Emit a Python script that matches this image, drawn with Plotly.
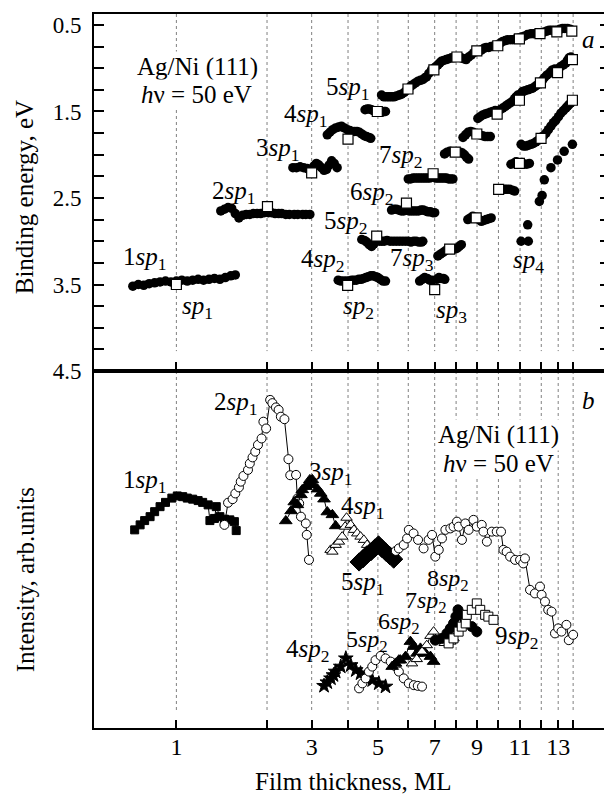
import numpy as np
import plotly.graph_objects as go

# ---------------- axis scale (film thickness, ML -> position on drawn axis) -------------
ML_TICKS = [0, 1, 2, 3, 4, 5, 6, 7, 8, 9, 10, 11, 12, 13, 14]
AXIS_POS = [85.7, 176.7, 267.7, 312.5, 349, 379, 409.5, 436, 457.5, 478.5, 500, 521.7, 543, 560, 575]
X_TICK_TEXT = ["1", "", "3", "", "5", "", "7", "", "9", "", "11", "", "13", ""]
BE_TICKS = [0.5, 0.75, 1.0, 1.25, 1.5, 1.75, 2.0, 2.25, 2.5, 2.75, 3.0, 3.25, 3.5, 3.75, 4.0, 4.25, 4.5]
BE_TICK_TEXT = ["0.5", "", "", "", "1.5", "", "", "", "2.5", "", "", "", "3.5", "", "", "", "4.5"]

def xs(ml):
    return np.interp(ml, ML_TICKS, AXIS_POS)

# ---------------- panel a: binding energy (filled circles) -------------
BE_1SP1_ML = [0.52,0.58,0.64,0.70,0.76,0.82,0.88,0.94,1.00,1.06,1.12,1.18,1.24,1.30,1.36,1.42,1.48,1.54,1.60,1.65]
BE_1SP1_EV = [3.52,3.50,3.51,3.49,3.48,3.47,3.46,3.47,3.46,3.45,3.46,3.45,3.44,3.45,3.44,3.43,3.44,3.42,3.40,3.39]
BE_2SP1_ML = [1.49,1.53,1.57,1.61,1.65,1.69,1.73,1.77,1.81,1.85,1.89,1.93,1.97,2.03,2.1,2.18,2.26,2.33,2.42,2.5,2.61,2.69,2.8,2.87,2.96]
BE_2SP1_EV = [2.65,2.63,2.61,2.62,2.68,2.73,2.70,2.69,2.69,2.68,2.68,2.68,2.67,2.67,2.67,2.68,2.68,2.68,2.69,2.69,2.69,2.69,2.69,2.69,2.69]
BE_3SP1_ML = [2.58,2.66,2.74,2.82,2.9,2.98,3.06,3.13,3.2,3.27,3.34,3.41,3.48,3.55,3.62,3.7]
BE_3SP1_EV = [2.15,2.15,2.14,2.15,2.16,2.17,2.13,2.10,2.12,2.15,2.18,2.17,2.12,2.07,2.10,2.15]
BE_4SP1_ML = [3.43,3.5,3.58,3.66,3.74,3.82,3.9,3.98,4.06,4.14,4.22,4.3,4.38,4.46,4.54,4.62,4.7,4.76]
BE_4SP1_EV = [1.77,1.74,1.71,1.69,1.68,1.67,1.69,1.71,1.72,1.73,1.73,1.73,1.74,1.76,1.78,1.79,1.80,1.81]
BE_5SP1_ML = [4.57,4.64,4.71,4.78,4.85,4.92,4.99,5.06,5.13,5.2,5.25]
BE_5SP1_EV = [1.48,1.47,1.47,1.48,1.49,1.50,1.50,1.51,1.51,1.50,1.50]
BE_SP1_HI_ML = [5.12,5.2,5.29,5.37,5.45,5.53,5.61,5.7,5.78,5.87,5.95,6.05,6.12,6.18,6.27,6.37,6.46,6.56,6.63,6.69,
                6.78,6.88,6.97,7.06,7.15,7.23,7.31,7.42,7.54,7.66,7.78,7.9,8.0,8.12,8.25,8.36,8.48,8.6,8.72,8.85,
                8.99,9.1,9.2,9.32,9.43,9.55,9.66,9.8,9.95,10.08,10.2,10.32,10.43,10.55,10.66,10.8,10.95,11.08,11.2,11.35,
                11.51,11.63,11.75,11.9,12.04,12.18,12.33,12.47,12.62,12.77,12.92,13.1,13.29,13.45,13.62,13.8,13.92]
BE_SP1_HI_EV = [1.31,1.33,1.33,1.33,1.33,1.33,1.32,1.31,1.30,1.28,1.25,1.22,1.20,1.19,1.17,1.15,1.14,1.13,1.11,1.10,
                1.06,1.02,1.00,0.98,0.96,0.94,0.92,0.91,0.90,0.89,0.88,0.88,0.87,0.87,0.88,0.89,0.90,0.87,0.85,0.82,
                0.80,0.80,0.79,0.77,0.76,0.76,0.75,0.74,0.73,0.71,0.69,0.68,0.67,0.67,0.67,0.66,0.65,0.64,0.63,0.61,
                0.60,0.60,0.60,0.59,0.59,0.58,0.57,0.56,0.56,0.56,0.56,0.55,0.54,0.54,0.54,0.55,0.56]
BE_4SP2_ML = [3.73,3.8,3.88,3.96,4.04,4.12,4.2,4.28,4.36,4.44,4.52,4.6,4.68,4.76,4.84,4.92,5.0,5.08,5.17,5.25]
BE_4SP2_EV = [3.45,3.46,3.46,3.46,3.46,3.45,3.45,3.45,3.44,3.44,3.43,3.42,3.41,3.40,3.40,3.41,3.42,3.44,3.46,3.46]
BE_5SP2_ML = [4.46,4.55,4.63,4.71,4.79,4.87,5.05,5.13,5.21,5.3,5.4,5.5,5.6,5.7,5.8,5.9,6.0,6.1,6.2,6.3,6.4,6.5,6.55]
BE_5SP2_EV = [2.98,2.99,3.01,3.04,3.06,3.03,3.0,3.0,3.0,2.99,3.0,3.0,3.0,3.0,3.0,3.0,3.0,3.01,3.0,3.0,3.01,3.01,3.0]
BE_6SP2_ML = [5.45,5.53,5.61,5.69,5.77,5.85,6.03,6.12,6.21,6.3,6.39,6.48,6.57,6.66,6.75,6.84,6.93,7.0]
BE_6SP2_EV = [2.64,2.63,2.63,2.64,2.65,2.65,2.65,2.65,2.65,2.65,2.65,2.64,2.64,2.65,2.66,2.66,2.67,2.67]
BE_7SP2_ML = [6.0,6.09,6.18,6.27,6.36,6.45,6.54,6.63,6.72,6.81,7.05,7.15,7.25,7.35,7.45,7.55,7.65,7.75,7.85]
BE_7SP2_EV = [2.28,2.28,2.27,2.27,2.27,2.27,2.27,2.27,2.27,2.27,2.27,2.27,2.27,2.27,2.27,2.27,2.28,2.28,2.28]
BE_8SP2_ML = [7.46,7.58,7.7,7.82,8.1,8.2,8.3,8.4,8.5,8.6]
BE_8SP2_EV = [1.99,1.97,1.96,1.97,1.97,1.97,1.98,2.00,2.03,2.05]
BE_9SP2_ML = [8.33,8.45,8.57,8.7,8.82,9.12,9.25,9.38,9.5,9.62]
BE_9SP2_EV = [1.80,1.77,1.74,1.73,1.74,1.77,1.78,1.79,1.79,1.79]
BE_SP2_HI_ML = [9.04,9.15,9.27,9.38,9.5,9.62,9.73,9.85,10.08,10.2,10.32,10.43,10.55,10.66,10.75,10.82,10.9,11.05,11.12,11.24,
                11.36,11.48,11.59,11.71,11.83,12.07,12.18,12.33,12.47,12.57,12.66,12.8,13.05,13.18,13.35,13.51,13.62,13.73,13.85]
BE_SP2_HI_EV = [1.58,1.56,1.54,1.53,1.52,1.51,1.50,1.49,1.48,1.46,1.44,1.42,1.40,1.38,1.35,1.33,1.31,1.29,1.27,1.26,
                1.25,1.24,1.23,1.21,1.19,1.14,1.11,1.08,1.06,1.04,1.02,1.01,1.00,0.98,0.96,0.94,0.91,0.88,0.87]
BE_SP3_ML = [6.43,6.53,6.62,6.72,6.81,6.9,7.1,7.2,7.3,7.4,7.47]
BE_SP3_EV = [3.46,3.44,3.42,3.43,3.45,3.45,3.44,3.42,3.43,3.43,3.44]
BE_7SP3_ML = [7.15,7.27,7.39,7.5,7.85,7.95,8.05,8.15,8.25]
BE_7SP3_EV = [3.17,3.15,3.13,3.11,3.09,3.09,3.08,3.06,3.04]
BE_9SP3_ML = [8.56,8.68,8.8,9.1,9.2,9.32,9.43,9.55,9.66]
BE_9SP3_EV = [2.75,2.73,2.71,2.75,2.77,2.76,2.75,2.74,2.73]
BE_10SP3_ML = [10.15,10.29,10.4,10.52,10.64,10.75]
BE_10SP3_EV = [2.40,2.40,2.40,2.40,2.41,2.42]
BE_11SP3_ML = [10.58,10.7,10.82,11.08,11.2,11.32,11.44]
BE_11SP3_EV = [2.11,2.10,2.08,2.09,2.11,2.11,2.10]
BE_SP3_HI_ML = [11.05,11.16,11.28,11.4,11.52,11.63,11.75,11.87,12.14,12.28,12.42,12.57,12.72,12.86,13.02,13.18,13.35,13.51,13.62,13.73,13.85]
BE_SP3_HI_EV = [1.88,1.90,1.90,1.89,1.88,1.87,1.85,1.83,1.78,1.75,1.71,1.67,1.63,1.60,1.56,1.52,1.49,1.46,1.44,1.42,1.40]
BE_SP4_ML = [11.05,11.36,11.39,11.91,12.05,12.18,12.57,12.96,13.4,13.95]
BE_SP4_EV = [3.00,2.81,3.00,2.54,2.47,2.29,2.15,2.06,1.96,1.88]

# open squares (reference points at integer coverage)
SQ_ML = [1.0,2.01,3.0,4.0,4.98,5.99,6.97,8.04,8.99,9.97,10.97,11.94,12.92,13.91,
         3.99,4.96,5.94,6.94,7.96,8.99,9.94,10.97,11.96,12.96,13.95,
         7.0,7.7,8.96,10.01,10.97,11.99,13.95]
SQ_EV = [3.50,2.60,2.21,1.82,1.50,1.24,1.02,0.87,0.80,0.74,0.66,0.60,0.58,0.57,
         3.51,2.94,2.56,2.22,1.97,1.76,1.53,1.37,1.17,1.05,0.90,
         3.56,3.09,2.73,2.40,2.10,1.81,1.37]

# ---------------- panel b: intensity (arb. units) -------------
I_1SP1_ML = [0.54,0.60,0.65,0.71,0.76,0.82,0.88,0.95,1.01,1.07,1.12,1.18,1.24,1.29,1.35,1.37,1.42,1.44,1.48,1.53,1.59,1.64,1.66]
I_1SP1 = [55.5,56.9,58.1,59.2,60.6,62.0,63.2,64.4,65.0,64.8,64.4,64.1,63.7,63.2,62.5,58.1,58.7,62.0,59.2,58.5,58.3,57.8,55.3]
I_2SP1_ML = [1.53,1.57,1.62,1.65,1.69,1.71,1.74,1.79,1.81,1.84,1.87,1.90,1.94,1.96,1.99,2.07,2.12,2.20,2.26,2.31,2.39,2.48,2.52,2.65,2.68,2.72,2.76,2.87,2.89,2.94]
I_2SP1 = [56.9,63.1,64.1,65.7,67.4,69.0,70.6,72.3,74.1,75.8,77.4,79.3,81.1,85.8,83.9,91.9,91.0,89.8,89.1,87.2,86.5,75.3,70.8,70.9,64.3,62.9,59.2,57.3,54.1,47.1]
I_3SP1_ML = [2.42,2.54,2.61,2.68,2.76,2.79,2.87,2.91,2.96,3.02,3.04,3.16,3.25,3.34,3.43,3.57,3.66]
I_3SP1 = [58.0,60.8,63.3,62.5,65.3,66.7,67.6,68.1,69.5,69.5,68.1,66.9,65.7,64.1,60.5,59.7,56.6]
I_4SP1_ML = [3.52,3.57,3.66,3.75,3.84,3.92,3.96,4.09,4.2,4.31,4.42,4.53,4.64,4.76]
I_4SP1 = [49.9,49.4,51.3,52.2,53.6,56.4,58.9,56.9,55.5,54.5,53.6,52.7,51.3,49.9]
I_5SP1_ML = [4.37,4.5,4.63,4.77,4.9,5.02,5.13,5.26,5.39,5.52]
I_5SP1 = [46.5,47.4,48.5,49.4,50.4,51.3,50.3,49.3,48.3,47.3]
I_HI_ML = [5.59,5.69,5.85,5.96,6.02,6.2,6.37,6.58,6.77,6.9,7.03,7.19,7.34,7.5,7.73,7.88,8.04,8.12,8.28,8.44,
           8.6,8.83,8.99,9.22,9.3,9.46,9.69,9.92,10.12,10.23,10.38,10.54,10.77,11.0,11.15,11.23,11.47,11.7,11.94,12.02,
           12.22,12.41,12.61,12.81,13.0,13.22,13.55,13.71,14.0]
I_HI = [49.6,50.3,51.3,53.1,55.5,54.5,52.7,50.3,52.7,54.1,48.0,49.9,53.1,55.5,55.9,56.4,57.8,56.4,52.7,57.3,
        55.5,58.3,56.4,56.9,55.0,52.2,55.0,55.0,55.0,49.9,49.4,48.0,47.1,47.1,46.1,47.5,38.7,37.7,39.6,37.3,
        35.4,33.1,32.6,26.5,27.9,27.0,28.9,24.6,26.1]
I_4SP2_ML = [3.34,3.43,3.53,3.6,3.66,3.8,3.94,4.09,4.26,4.42,4.59,4.81,5.03,5.25]
I_4SP2 = [11.8,12.8,13.9,14.8,15.8,17.2,19.5,17.6,16.2,15.3,13.9,13.4,12.5,11.6]
I_5SP2_ML = [4.37,4.48,4.59,4.7,4.81,4.92,5.09,5.25,5.42,5.58,5.69,5.85,6.02,6.21,6.36,6.52]
I_5SP2 = [11.1,12.5,13.9,15.8,17.2,19.0,20.2,19.5,18.6,17.2,15.8,13.9,12.5,12.0,11.8,11.6]
I_6SP2_ML = [5.47,5.58,5.69,5.74,5.91,6.08,6.21,6.33,6.46,6.65,6.84,6.96]
I_6SP2 = [17.2,18.1,19.0,19.0,20.0,24.2,22.8,20.9,22.3,20.9,20.0,18.6]
I_7SP2_ML = [6.14,6.32,6.52,6.7,6.84,6.96,7.22,7.47,7.73,7.88]
I_7SP2 = [18.1,19.3,21.4,23.2,25.8,27.0,24.4,23.8,24.2,25.1]
I_8SP2_ML = [7.03,7.34,7.57,7.73,7.88,7.99,8.09,8.25,8.44,8.75,8.99]
I_8SP2 = [24.6,25.1,26.5,27.9,29.3,31.2,33.1,31.7,30.3,28.4,27.0]
I_9SP2_ML = [7.65,7.88,8.12,8.27,8.46,8.51,8.75,8.99,9.15,9.38,9.53,9.77]
I_9SP2 = [23.7,25.1,27.0,28.4,29.3,31.7,33.1,34.9,33.1,31.7,31.2,30.3]

FONT = "Liberation Serif"
BLACK = "black"

fig = go.Figure()

# panel a filled circles
for ml, ev in [(BE_1SP1_ML, BE_1SP1_EV), (BE_2SP1_ML, BE_2SP1_EV), (BE_3SP1_ML, BE_3SP1_EV),
               (BE_4SP1_ML, BE_4SP1_EV), (BE_5SP1_ML, BE_5SP1_EV), (BE_SP1_HI_ML, BE_SP1_HI_EV),
               (BE_4SP2_ML, BE_4SP2_EV), (BE_5SP2_ML, BE_5SP2_EV), (BE_6SP2_ML, BE_6SP2_EV),
               (BE_7SP2_ML, BE_7SP2_EV), (BE_8SP2_ML, BE_8SP2_EV), (BE_9SP2_ML, BE_9SP2_EV),
               (BE_SP2_HI_ML, BE_SP2_HI_EV), (BE_SP3_ML, BE_SP3_EV), (BE_7SP3_ML, BE_7SP3_EV),
               (BE_9SP3_ML, BE_9SP3_EV), (BE_10SP3_ML, BE_10SP3_EV), (BE_11SP3_ML, BE_11SP3_EV),
               (BE_SP3_HI_ML, BE_SP3_HI_EV), (BE_SP4_ML, BE_SP4_EV)]:
    fig.add_trace(go.Scatter(x=xs(ml), y=ev, mode="markers", xaxis="x2", yaxis="y2",
                             marker=dict(symbol="circle", size=9.5, color=BLACK, line=dict(width=0)),
                             showlegend=False))
fig.add_trace(go.Scatter(x=xs(SQ_ML), y=SQ_EV, mode="markers", xaxis="x2", yaxis="y2",
                         marker=dict(symbol="square", size=10, color="white", line=dict(width=1.2, color=BLACK)),
                         showlegend=False))

# panel b series
def add_b(ml, val, symbol, size, fill, lw=1.0):
    fig.add_trace(go.Scatter(x=xs(ml), y=val, mode="lines+markers", xaxis="x", yaxis="y",
                             line=dict(color=BLACK, width=1),
                             marker=dict(symbol=symbol, size=size, color=fill, line=dict(width=lw, color=BLACK)),
                             showlegend=False))

add_b(I_1SP1_ML, I_1SP1, "square", 8, BLACK)
add_b(I_2SP1_ML, I_2SP1, "circle", 9, "white")
add_b(I_3SP1_ML, I_3SP1, "triangle-up", 11, BLACK)
add_b(I_4SP1_ML, I_4SP1, "triangle-up", 10, "white")
add_b(I_5SP1_ML, I_5SP1, "diamond", 14, BLACK)
add_b(I_HI_ML, I_HI, "circle", 9, "white")
add_b(I_4SP2_ML, I_4SP2, "star", 11, BLACK)
add_b(I_5SP2_ML, I_5SP2, "circle", 9, "white")
add_b(I_6SP2_ML, I_6SP2, "triangle-up", 11, BLACK)
add_b(I_7SP2_ML, I_7SP2, "triangle-up", 10, "white")
add_b(I_8SP2_ML, I_8SP2, "circle", 10, BLACK)
add_b(I_9SP2_ML, I_9SP2, "square", 9, "white")

# dotted guide lines at every ML
shapes = []
for p in AXIS_POS[1:]:
    shapes.append(dict(type="line", xref="x2", yref="y2", x0=p, x1=p, y0=0.373, y1=4.27,
                       line=dict(color="#808080", width=1, dash="dot"), layer="below"))
    shapes.append(dict(type="line", xref="x", yref="y", x0=p, x1=p, y0=100, y1=5,
                       line=dict(color="#808080", width=1, dash="dot"), layer="below"))

# plot area on screen: x 94..612, y 14..728 (page has an 8 px body margin)
def pp(px, py):
    return (px - 94) / 518.0, (728 - py) / 714.0

LABELS = [
    ("Ag/Ni (111)", 198, 67, True, 25), ("<i>h</i>ν = 50 eV", 197, 94, True, 25),
    ("<i>a</i>", 590, 40, False, 25),
    ("1<i>sp</i><sub>1</sub>", 145, 258, False, 25), ("<i>sp</i><sub>1</sub>", 198, 307, False, 25),
    ("2<i>sp</i><sub>1</sub>", 234, 192, False, 25), ("3<i>sp</i><sub>1</sub>", 278, 149, False, 25),
    ("4<i>sp</i><sub>1</sub>", 306, 115, False, 25), ("5<i>sp</i><sub>1</sub>", 348, 89, False, 25),
    ("7<i>sp</i><sub>2</sub>", 402, 157, False, 25), ("6<i>sp</i><sub>2</sub>", 373, 193, False, 25),
    ("5<i>sp</i><sub>2</sub>", 346, 223, False, 25), ("4<i>sp</i><sub>2</sub>", 323, 260, False, 25),
    ("7<i>sp</i><sub>3</sub>", 413, 259, False, 25), ("<i>sp</i><sub>2</sub>", 360, 307, False, 25),
    ("<i>sp</i><sub>3</sub>", 453, 311, False, 25), ("<i>sp</i><sub>4</sub>", 530, 261, False, 25),
    ("<i>b</i>", 590, 400, False, 25),
    ("Ag/Ni (111)", 500, 435, True, 25), ("<i>h</i>ν = 50 eV", 500, 463, True, 25),
    ("2<i>sp</i><sub>1</sub>", 236, 403, False, 25), ("1<i>sp</i><sub>1</sub>", 145, 481, False, 25),
    ("3<i>sp</i><sub>1</sub>", 331, 474, False, 25), ("4<i>sp</i><sub>1</sub>", 364, 507, False, 25),
    ("5<i>sp</i><sub>1</sub>", 364, 583, False, 25), ("4<i>sp</i><sub>2</sub>", 308, 650, False, 25),
    ("5<i>sp</i><sub>2</sub>", 368, 641, False, 24), ("6<i>sp</i><sub>2</sub>", 400, 623, False, 24),
    ("7<i>sp</i><sub>2</sub>", 427, 602, False, 24), ("8<i>sp</i><sub>2</sub>", 449, 580, False, 24),
    ("9<i>sp</i><sub>2</sub>", 518, 637, False, 25),
]
annotations = []
for text, px, py, bg, fs in LABELS:
    x, y = pp(px, py)
    a = dict(text=text, x=x, y=y, xref="paper", yref="paper", showarrow=False,
             xanchor="center", yanchor="middle", font=dict(family=FONT, size=fs, color=BLACK))
    if bg:
        a.update(bgcolor="white", borderpad=1)
    annotations.append(a)

for text, px, py, ang in [("Binding energy, eV", 25, 197, -90), ("Intensity, arb.units", 25, 580, -90),
                          ("Film thickness, ML", 355, 781, 0)]:
    x, y = pp(px, py)
    annotations.append(dict(text=text, x=x, y=y, xref="paper", yref="paper", showarrow=False,
                            textangle=ang, xanchor="center", yanchor="middle",
                            font=dict(family=FONT, size=25, color=BLACK)))

common_x = dict(range=[94, 612], tickmode="array", tickvals=AXIS_POS[1:], showgrid=False, zeroline=False,
                showline=True, linecolor=BLACK, linewidth=2, mirror=True,
                ticks="inside", tickcolor=BLACK, tickwidth=1.5)

fig.update_layout(
    width=604, height=788,
    margin=dict(l=86, r=0, t=6, b=68),
    paper_bgcolor="white", plot_bgcolor="white",
    showlegend=False,
    xaxis=dict(domain=[0, 1], anchor="y", ticktext=X_TICK_TEXT, ticklen=8, ticklabelstandoff=-4,
               tickfont=dict(family=FONT, size=24, color=BLACK), **common_x),
    xaxis2=dict(domain=[0, 1], anchor="y2", showticklabels=False, ticklen=9, **common_x),
    yaxis=dict(domain=[0, 0.5], anchor="x", range=[0, 100], showticklabels=False, ticks="",
               showgrid=False, zeroline=False, showline=True, linecolor=BLACK, linewidth=2, mirror=True),
    yaxis2=dict(domain=[0.5, 1], anchor="x2", range=[4.5, 0.373], tickmode="array",
                tickvals=BE_TICKS, ticktext=BE_TICK_TEXT, ticks="inside", ticklen=10, tickwidth=1.5,
                tickcolor=BLACK, showgrid=False, zeroline=False, showline=True, linecolor=BLACK,
                linewidth=2, mirror="ticks", ticklabelstandoff=6,
                tickfont=dict(family=FONT, size=23, color=BLACK)),
    shapes=shapes,
    annotations=annotations,
)

fig.write_html("out.html")
